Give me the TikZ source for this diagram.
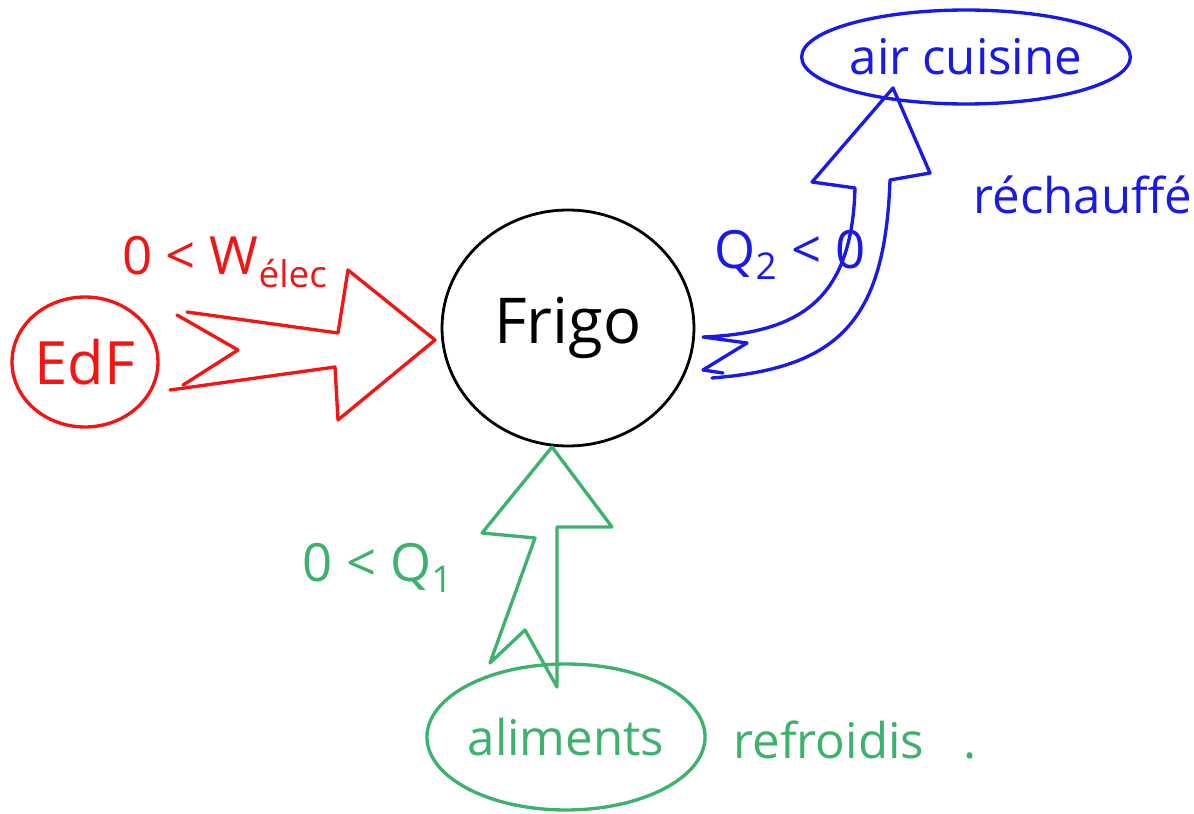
\documentclass[tikz,border=0pt]{standalone}
\usepackage{fontspec}
\setmainfont{Open Sans}
\usetikzlibrary{shapes.geometric}
\definecolor{penred}{RGB}{245,20,20}
\definecolor{penblue}{RGB}{25,25,235}
\definecolor{pengreen}{RGB}{60,178,110}

\begin{document}
\begin{tikzpicture}[x=0.02cm, y=-0.02cm, line width=1.9pt, line cap=round, line join=round,
    every node/.style={font=\fontsize{28}{32}\selectfont, inner sep=0pt},
    bubble/.style={draw, ellipse, line width=1.9pt}]
    \useasboundingbox (0,0) rectangle (1194,814);

    \node[draw=black, ellipse, line width=1.6pt, minimum width=5.04cm, minimum height=4.72cm,
        font=\fontsize{36}{40}\selectfont] (frigo) at (568,328) {Frigo};

    \node[bubble, penred, minimum width=2.92cm, minimum height=2.6cm,
        font=\fontsize{34}{38}\selectfont] (edf) at (85,362) {EdF};
    \node[bubble, penblue, minimum width=5.96cm, minimum height=1.88cm] (air) at (966,57) {air cuisine};
    \node[bubble, pengreen, minimum width=5.08cm, minimum height=2.92cm] (aliments) at (566,737) {aliments};

    \draw[penred] (187,312) -- (338,333) -- (348,270) -- (435,340) -- (338,420) -- (335,367) -- (170,390);
    \draw[penred] (177,315) -- (238,350) -- (183,385);

    \draw[penblue] (723,373) -- (703,370) -- (747,343) -- (703,337)
        .. controls (800,333) and (852,300) .. (855,188) -- (812,182) -- (893,88) -- (930,173) -- (890,180)
        .. controls (885,320) and (840,368) .. (712,378);

    \draw[pengreen] (490,663) -- (525,630) -- (557,687) -- (557,527) -- (612,527) -- (552,447)
        -- (482,533) -- (535,538) -- cycle;

    \node[penred, font=\fontsize{30}{34}\selectfont] (welec) at (225,262) {0 < W\textsubscript{élec}};
    \node[penblue, font=\fontsize{30}{34}\selectfont] (qdeux) at (790,255) {Q\textsubscript{2} < 0};
    \node[penblue] (rechauffe) at (1083,195) {réchauffé};
    \node[pengreen, font=\fontsize{30}{34}\selectfont] (qun) at (378,568) {0 < Q\textsubscript{1}};
    \node[pengreen] (refroidis) at (855,740) {refroidis\hspace{0.8em}.};
\end{tikzpicture}
\end{document}
